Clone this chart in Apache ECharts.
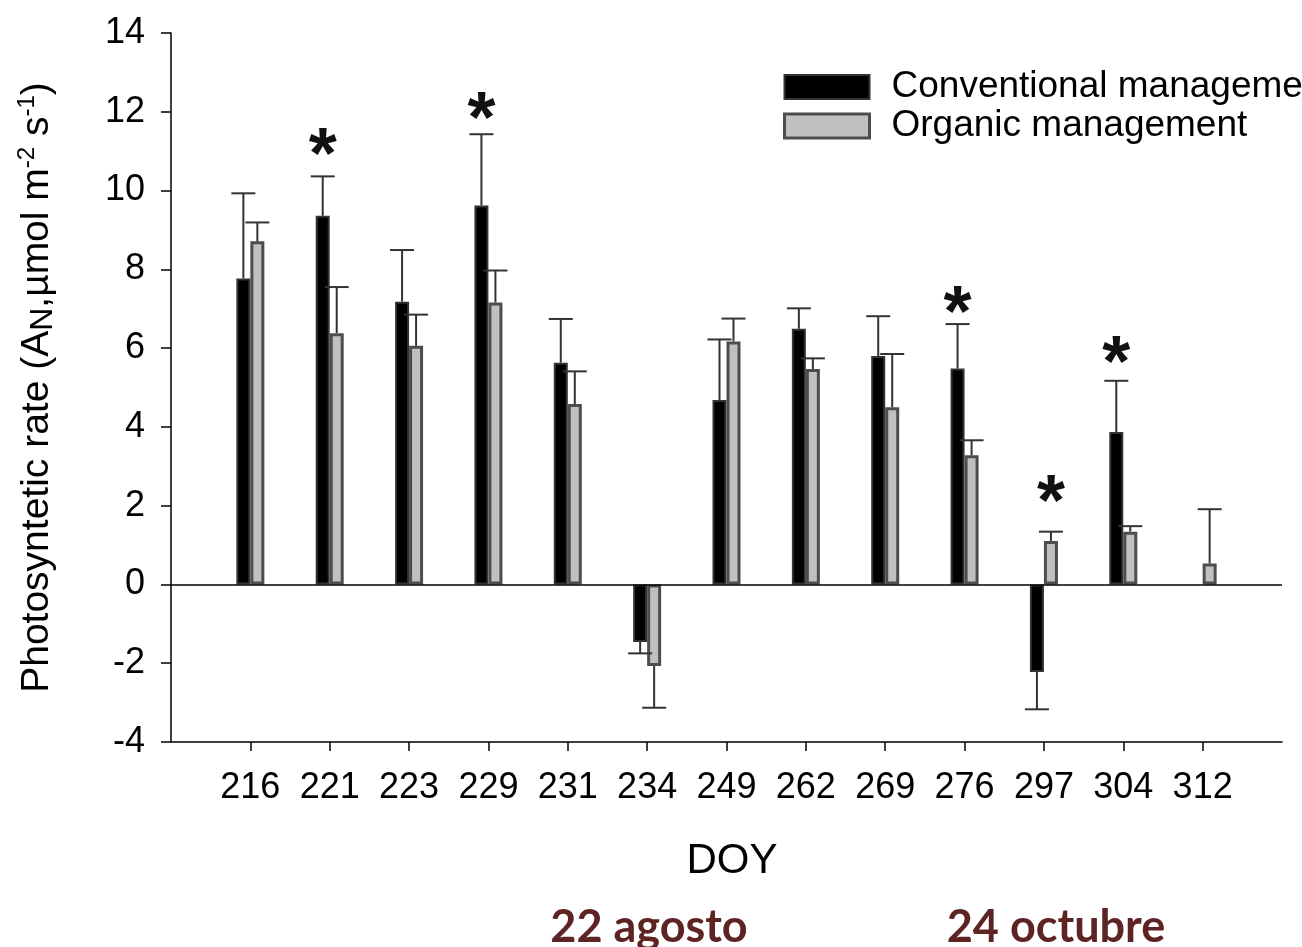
<!DOCTYPE html>
<html>
<head>
<meta charset="utf-8">
<script src="https://cdn.jsdelivr.net/npm/echarts@6/dist/echarts.min.js"></script>
<style>
  html, body { margin: 0; padding: 0; background: #fff; }
  #chart { width: 1302px; height: 947px; }
</style>
</head>
<body>
<div id="chart"></div>
<script>
// Day of year of each measurement
const categories = ['216', '221', '223', '229', '231', '234', '249', '262', '269', '276', '297', '304', '312'];
// Net photosynthetic rate, means (µmol m-2 s-1)
const conventional = [7.77, 9.36, 7.18, 9.62, 5.63, -1.46, 4.68, 6.49, 5.80, 5.48, -2.22, 3.87, null];
const organic = [8.71, 6.38, 6.06, 7.16, 4.58, -2.07, 6.17, 5.47, 4.50, 3.28, 1.10, 1.34, 0.53];
// One-sided error (standard error) of each mean
const conventionalErr = [2.16, 1.00, 1.31, 1.81, 1.11, 0.29, 1.54, 0.52, 1.01, 1.13, 0.95, 1.30, null];
const organicErr = [0.48, 1.17, 0.79, 0.81, 0.83, 1.06, 0.58, 0.27, 1.35, 0.38, 0.24, 0.14, 1.38];
// Significant differences between managements
const starDoy = ['221', '229', '276', '297', '304'];
const starSeries = ['conv', 'conv', 'conv', 'org', 'conv'];
const starLevel = [11.18, 12.09, 7.17, 2.39, 5.92];
// Y axis ticks
const yTicks = [-4, -2, 0, 2, 4, 6, 8, 10, 12, 14];

const FONT = "'Liberation Sans', Arial, sans-serif";
const BAR_W = 14;
const positions = categories.map((c, i) => i + 1);

const convData = conventional.map((v, i) => [i + 1, v]);
const orgData = organic.map((v, i) => [i + 1, v]);
const convErrData = conventional.map((v, i) => [i + 1, v, conventionalErr[i]]);
const orgErrData = organic.map((v, i) => [i + 1, v, organicErr[i]]);
const starData = starDoy.map((d, i) => [categories.indexOf(d) + 1, starLevel[i], starSeries[i] === 'conv' ? -1 : 1]);

function errorBar(offset) {
  return function (params, api) {
    const v = api.value(1), e = api.value(2);
    if (v == null || isNaN(v) || e == null || isNaN(e)) return null;
    const dir = v < 0 ? -1 : 1;
    const p0 = api.coord([api.value(0), v]);
    const p1 = api.coord([api.value(0), v + dir * e]);
    const cx = p0[0] + offset;
    const st = { stroke: '#333', lineWidth: 2 };
    return {
      type: 'group',
      children: [
        { type: 'line', shape: { x1: cx, y1: p0[1], x2: cx, y2: p1[1] }, style: st },
        { type: 'line', shape: { x1: cx - 12, y1: p1[1], x2: cx + 12, y2: p1[1] }, style: st }
      ]
    };
  };
}

const chart = echarts.init(document.getElementById('chart'), null, { renderer: 'canvas' });

chart.setOption({
  backgroundColor: '#fff',
  animation: false,
  textStyle: { fontFamily: FONT },
  grid: { left: 171, right: 20, top: 33, bottom: 205, containLabel: false, outerBoundsMode: 'none' },
  legend: {
    orient: 'vertical',
    left: 783,
    top: 68,
    padding: 0,
    icon: 'rect',
    itemWidth: 85,
    itemHeight: 24,
    itemGap: 1,
    selectedMode: false,
    textStyle: { fontFamily: FONT, fontSize: 37, color: '#000', lineHeight: 38, padding: [0, 0, 0, 17] },
    data: [
      { name: 'Conventional management', itemStyle: { color: '#000', borderColor: '#333', borderWidth: 2 } },
      { name: 'Organic management', itemStyle: { color: '#c0c0c0', borderColor: '#4d4d4d', borderWidth: 3 } }
    ]
  },
  xAxis: {
    type: 'value',
    min: 0,
    max: 14,
    interval: 1,
    name: 'DOY',
    nameLocation: 'middle',
    nameGap: 98,
    nameTextStyle: { fontFamily: FONT, fontSize: 42, color: '#000', padding: [0, 0, 0, 11] },
    axisLine: { onZero: false, lineStyle: { color: '#000', width: 1.5 } },
    axisTick: { customValues: positions, length: 9, lineStyle: { color: '#000', width: 1.5 } },
    axisLabel: {
      customValues: positions,
      margin: 28,
      fontFamily: FONT,
      fontSize: 36,
      color: '#000',
      formatter: v => categories[Math.round(v) - 1] || ''
    },
    splitLine: { show: false }
  },
  yAxis: {
    type: 'value',
    min: yTicks[0],
    max: yTicks[yTicks.length - 1],
    interval: 2,
    name: 'Photosyntetic rate (A{sub|N},µmol m{sup|-2} s{sup|-1})',
    nameLocation: 'middle',
    nameRotate: 90,
    nameGap: 112,
    nameTextStyle: {
      fontFamily: FONT,
      fontSize: 39,
      color: '#000',
      lineHeight: 44,
      rich: {
        sub: { fontFamily: FONT, fontSize: 32, color: '#000', lineHeight: 38, verticalAlign: 'bottom' },
        sup: { fontFamily: FONT, fontSize: 24, color: '#000', lineHeight: 24, verticalAlign: 'top' }
      }
    },
    axisLine: { show: true, onZero: false, lineStyle: { color: '#000', width: 1.5 } },
    axisTick: { show: true, length: 10, lineStyle: { color: '#000', width: 1.5 } },
    axisLabel: { margin: 26, fontFamily: FONT, fontSize: 36, color: '#000' },
    splitLine: { show: false }
  },
  series: [
    {
      name: 'Conventional management',
      type: 'bar',
      barWidth: BAR_W,
      barGap: '0%',
      data: convData,
      itemStyle: { color: '#000', borderColor: '#333', borderWidth: 2 },
      z: 2,
      markLine: {
        silent: true,
        symbol: 'none',
        label: { show: false },
        lineStyle: { color: '#000', width: 1.5, type: 'solid' },
        data: [{ yAxis: 0 }],
        z: 5
      }
    },
    {
      name: 'Organic management',
      type: 'bar',
      barWidth: BAR_W,
      barGap: '0%',
      data: orgData,
      itemStyle: { color: '#c0c0c0', borderColor: '#4d4d4d', borderWidth: 3 },
      z: 2
    },
    {
      type: 'custom',
      renderItem: errorBar(-BAR_W / 2),
      data: convErrData,
      encode: { x: 0, y: [1, 2] },
      z: 4,
      silent: true
    },
    {
      type: 'custom',
      renderItem: errorBar(BAR_W / 2),
      data: orgErrData,
      encode: { x: 0, y: [1, 2] },
      z: 4,
      silent: true
    },
    {
      type: 'custom',
      data: starData,
      encode: { x: 0, y: 1 },
      z: 6,
      silent: true,
      renderItem: function (params, api) {
        const p = api.coord([api.value(0), api.value(1)]);
        const fs = 72;
        return {
          type: 'text',
          x: p[0] + api.value(2) * BAR_W / 2,
          y: p[1] + fs * 0.2,
          style: {
            text: '*',
            fontFamily: FONT,
            fontSize: fs,
            fontWeight: 'bold',
            fill: '#111',
            align: 'center',
            verticalAlign: 'middle'
          }
        };
      }
    }
  ],
  graphic: [
    {
      type: 'text', x: 649, y: 927,
      style: { text: '22 agosto', fontFamily: 'Lato, sans-serif', fontWeight: 'bold', fontSize: 45, fill: '#5e2424', align: 'center', verticalAlign: 'middle' }
    },
    {
      type: 'text', x: 1056, y: 927,
      style: { text: '24 octubre', fontFamily: 'Lato, sans-serif', fontWeight: 'bold', fontSize: 45, fill: '#5e2424', align: 'center', verticalAlign: 'middle' }
    }
  ]
});
</script>
</body>
</html>
